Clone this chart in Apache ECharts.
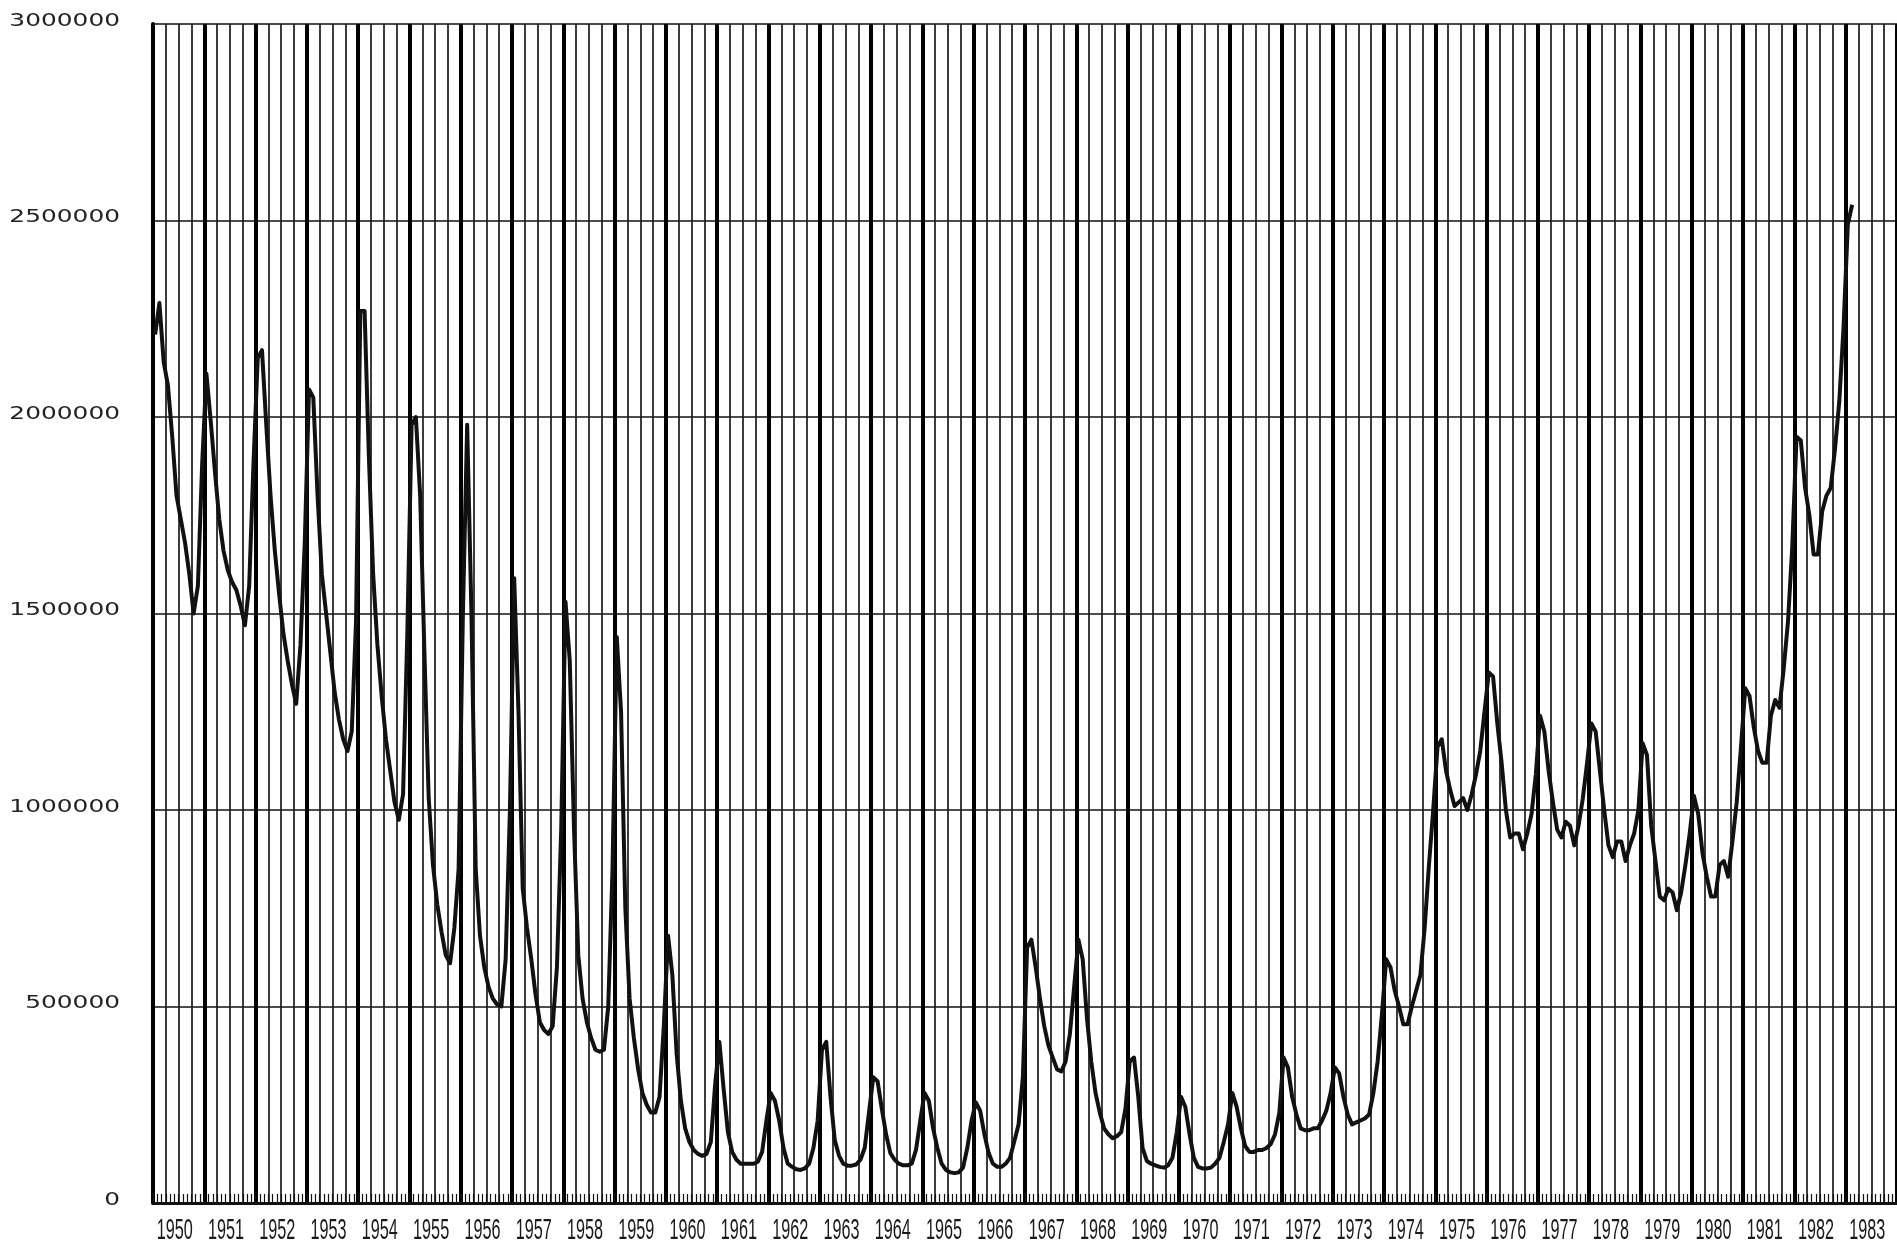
<!DOCTYPE html>
<html>
<head>
<meta charset="utf-8">
<script src="https://cdn.jsdelivr.net/npm/echarts@6/dist/echarts.min.js"></script>
<style>
html,body{margin:0;padding:0;background:#fff;}
#chart{width:1897px;height:1244px;}
</style>
</head>
<body>
<div id="chart"></div>
<script>
// Monthly values (thousands), Jan..Dec of each year
const y1950 = [2210, 2290, 2140, 2080, 1950, 1800, 1740, 1680, 1600, 1500, 1570, 1880];
const y1951 = [2110, 1990, 1860, 1740, 1660, 1610, 1580, 1560, 1520, 1470, 1570, 1880];
const y1952 = [2150, 2170, 1980, 1800, 1660, 1550, 1450, 1380, 1320, 1270, 1420, 1680];
const y1953 = [2070, 2050, 1800, 1600, 1500, 1400, 1300, 1230, 1180, 1150, 1200, 1480];
const y1954 = [2270, 2270, 1900, 1600, 1420, 1290, 1180, 1100, 1020, 975, 1040, 1450];
const y1955 = [1980, 2000, 1800, 1400, 1030, 860, 760, 690, 630, 610, 700, 850];
const y1956 = [1500, 1980, 1500, 850, 680, 600, 550, 520, 505, 500, 620, 1000];
const y1957 = [1590, 1250, 800, 700, 620, 530, 460, 440, 430, 450, 600, 950];
const y1958 = [1530, 1380, 950, 630, 520, 460, 420, 390, 385, 390, 500, 850];
const y1959 = [1440, 1250, 750, 520, 420, 340, 280, 250, 230, 230, 270, 450];
const y1960 = [680, 580, 380, 260, 190, 155, 135, 125, 120, 125, 155, 300];
const y1961 = [410, 290, 180, 130, 110, 100, 100, 100, 100, 105, 130, 210];
const y1962 = [280, 260, 210, 140, 100, 92, 86, 84, 88, 100, 140, 210];
const y1963 = [390, 410, 270, 160, 120, 100, 95, 95, 98, 110, 140, 230];
const y1964 = [320, 310, 240, 175, 127, 110, 100, 96, 96, 100, 135, 210];
const y1965 = [280, 260, 190, 140, 100, 84, 78, 76, 78, 90, 140, 210];
const y1966 = [256, 235, 175, 127, 100, 92, 92, 100, 115, 157, 200, 320];
const y1967 = [650, 670, 600, 520, 450, 400, 370, 340, 335, 360, 430, 550];
const y1968 = [670, 620, 470, 360, 280, 230, 190, 175, 165, 170, 180, 240];
const y1969 = [360, 370, 270, 140, 107, 100, 96, 92, 90, 96, 115, 180];
const y1970 = [270, 245, 175, 115, 92, 88, 88, 90, 100, 115, 155, 200];
const y1971 = [280, 245, 190, 145, 130, 130, 135, 135, 140, 150, 175, 230];
const y1972 = [370, 345, 270, 225, 190, 185, 185, 190, 190, 210, 235, 280];
const y1973 = [345, 330, 270, 225, 200, 205, 210, 215, 225, 280, 360, 480];
const y1974 = [620, 600, 540, 500, 455, 455, 500, 540, 580, 700, 860, 1000];
const y1975 = [1160, 1180, 1100, 1050, 1010, 1020, 1030, 1000, 1040, 1090, 1150, 1250];
const y1976 = [1350, 1340, 1220, 1120, 1000, 930, 940, 940, 900, 940, 990, 1090];
const y1977 = [1240, 1200, 1100, 1020, 950, 930, 970, 960, 910, 960, 1030, 1120];
const y1978 = [1220, 1200, 1100, 1000, 910, 880, 920, 920, 870, 910, 940, 1000];
const y1979 = [1170, 1140, 960, 870, 780, 770, 800, 790, 745, 790, 860, 940];
const y1980 = [1036, 990, 890, 830, 780, 780, 860, 870, 830, 920, 1020, 1160];
const y1981 = [1310, 1290, 1210, 1150, 1120, 1120, 1240, 1280, 1260, 1360, 1480, 1670];
const y1982 = [1950, 1940, 1820, 1750, 1650, 1650, 1760, 1800, 1820, 1920, 2040, 2230];
const y1983 = [2490, 2540];

// Category / tick labels
const years = ['1950','1951','1952','1953','1954','1955','1956','1957','1958','1959',
  '1960','1961','1962','1963','1964','1965','1966','1967','1968','1969',
  '1970','1971','1972','1973','1974','1975','1976','1977','1978','1979',
  '1980','1981','1982','1983'];
const yTicks = [0, 500000, 1000000, 1500000, 2000000, 2500000, 3000000];

const yearly = [y1950,y1951,y1952,y1953,y1954,y1955,y1956,y1957,y1958,y1959,
  y1960,y1961,y1962,y1963,y1964,y1965,y1966,y1967,y1968,y1969,
  y1970,y1971,y1972,y1973,y1974,y1975,y1976,y1977,y1978,y1979,
  y1980,y1981,y1982,y1983];

const monthCats = [];
const quarterCats = [];
years.forEach(y => {
  for (let m = 1; m <= 12; m++) monthCats.push(y + '-' + m);
  for (let q = 1; q <= 4; q++) quarterCats.push(y + 'Q' + q);
});
const values = [];
yearly.forEach(arr => arr.forEach(v => values.push(v * 1000)));

const chart = echarts.init(document.getElementById('chart'), null, {renderer: 'canvas'});
const INK = '#111';
const GRID_LEFT = 153;
const option = {
  backgroundColor: '#ffffff',
  animation: false,
  grid: {left: GRID_LEFT, top: 24, width: 1748, bottom: 41, containLabel: false},
  xAxis: [
    { // monthly axis: carries the series and the small ticks along the bottom
      type: 'category', data: monthCats, boundaryGap: true, position: 'bottom',
      axisLine: {show: true, onZero: false, lineStyle: {color: INK, width: 3}},
      axisTick: {show: true, inside: true, interval: 0, length: 9, lineStyle: {color: INK, width: 1.2}},
      axisLabel: {show: false},
      splitLine: {show: false}
    },
    { // quarter grid lines
      type: 'category', data: quarterCats, boundaryGap: true, position: 'bottom',
      axisLine: {show: false}, axisTick: {show: false}, axisLabel: {show: false},
      splitLine: {show: true, interval: 0, lineStyle: {color: '#1a1a1a', width: 1.7}}
    },
    { // year lines
      type: 'category', data: years, boundaryGap: true, position: 'bottom',
      axisLine: {show: false}, axisTick: {show: false},
      axisLabel: {show: false},
      splitLine: {show: true, interval: 0, lineStyle: {color: '#000', width: 4}}
    }
  ],
  yAxis: {
    type: 'value', min: yTicks[0], max: yTicks[yTicks.length - 1], interval: yTicks[1] - yTicks[0],
    axisLine: {show: true, lineStyle: {color: '#000', width: 4}},
    axisTick: {show: false},
    axisLabel: {show: false},
    splitLine: {show: true, lineStyle: {color: '#111', width: 1.7}}
  },
  series: [{
    type: 'line', xAxisIndex: 0, data: values, showSymbol: false, smooth: false,
    lineStyle: {color: INK, width: 4, join: 'round'}, z: 5
  }]
};
chart.setOption(option);

// Tick labels placed through the axes' own scales (plotter-style stretched lettering)
const baseY = chart.convertToPixel({yAxisIndex: 0}, 0);
const labels = [];
years.forEach(y => {
  const cx = chart.convertToPixel({xAxisIndex: 2}, y);
  labels.push({
    type: 'text', x: cx - 4, y: baseY + 28, scaleX: 0.9, scaleY: 1.62, z: 10,
    style: {text: y, font: '18px "Liberation Sans", Arial, sans-serif', fill: '#1a1a1a',
      textAlign: 'center', textVerticalAlign: 'middle'}
  });
});
yTicks.forEach(v => {
  const py = chart.convertToPixel({yAxisIndex: 0}, v);
  labels.push({
    type: 'text', x: GRID_LEFT - 33, y: py - 3, scaleX: 1.38, scaleY: 1, z: 10,
    style: {text: String(v), font: '18px "DejaVu Sans", sans-serif', fill: '#222',
      textAlign: 'right', textVerticalAlign: 'middle'}
  });
});
chart.setOption({graphic: labels});
</script>
</body>
</html>
